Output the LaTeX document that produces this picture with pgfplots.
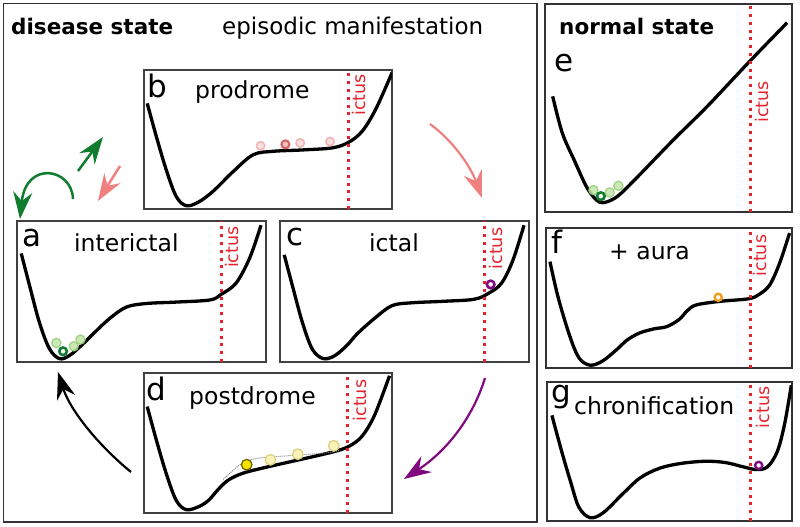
\documentclass[border=0pt]{standalone}
\usepackage{fontspec}
\setmainfont{DejaVu Sans}
\usepackage{pgfplots}
\pgfplotsset{compat=1.18}
\usetikzlibrary{arrows.meta}
\definecolor{ictusred}{RGB}{230,35,45}
\definecolor{dgreen}{RGB}{15,125,45}
\definecolor{lgreen}{RGB}{150,205,120}
\definecolor{lgreenfill}{RGB}{195,228,170}
\definecolor{pinkarrow}{RGB}{240,128,128}
\definecolor{pinkball}{RGB}{238,170,170}
\definecolor{pinkdark}{RGB}{215,95,95}
\definecolor{purp}{RGB}{128,10,128}
\definecolor{orng}{RGB}{240,160,30}
\definecolor{yel}{RGB}{245,228,0}
\definecolor{yelborder}{RGB}{110,100,0}
\definecolor{paley}{RGB}{250,242,185}
\definecolor{paleyb}{RGB}{222,210,130}
\pgfplotsset{
  panel/.style={scale only axis, anchor=north west, xmin=0, xmax=1, ymin=0, ymax=1,
    xtick=\empty, ytick=\empty, axis line style={draw=black!75, line width=1.1pt}},
  rpanel/.style={panel, axis line style={draw=black!80, line width=1.5pt}},
  curve/.style={black, line width=3.3pt, smooth, tension=0.55, no marks},
  ictus/.style={color=ictusred, line width=3pt, dash pattern=on 3pt off 4.8pt, no marks},
}
\tikzset{
  ictuslabel/.style={rotate=90, anchor=east, text=ictusred, font=\fontsize{17.5pt}{20pt}\selectfont, inner sep=1pt},
  title/.style={anchor=base west, font=\fontsize{23pt}{26pt}\selectfont, inner sep=0pt},
  ptitle/.style={anchor=base west, font=\fontsize{23.5pt}{26pt}\selectfont, inner sep=0pt},
  letter/.style={anchor=base west, font=\fontsize{31pt}{34pt}\selectfont, inner sep=0pt},
  btitle/.style={anchor=base west, font=\bfseries\fontsize{21.5pt}{24pt}\selectfont, inner sep=0pt},
  arr/.style={-{Stealth[length=27pt, width=19pt, inset=9pt]}},
}
\begin{document}
\begin{tikzpicture}
\path (0pt,0pt) rectangle (800pt,-527pt);
% ---------- panel a
\begin{axis}[panel, at={(17pt,-221pt)}, width=249pt, height=141pt]
\addplot[curve] coordinates {(0.017,0.77) (0.05,0.545) (0.09,0.28) (0.13,0.095) (0.17,0.024) (0.21,0.045) (0.26,0.12) (0.306,0.2) (0.373,0.31) (0.44,0.39) (0.52,0.415) (0.64,0.425) (0.775,0.44) (0.82,0.48) (0.88,0.56) (0.935,0.74) (0.98,0.97)};
\addplot[ictus] coordinates {(0.82,0) (0.82,1)};
\node[ictuslabel] at (axis cs:0.862,0.97) {ictus};
\addplot[only marks, mark=*, mark size=4.6pt, mark options={draw=lgreen, fill=lgreenfill, line width=1.3pt, opacity=0.85}] coordinates {(0.158,0.135) (0.228,0.111) (0.255,0.159)};
\addplot[only marks, mark=*, mark size=3.8pt, mark options={draw=dgreen, fill=white, line width=2.6pt}] coordinates {(0.185,0.076)};
\end{axis}
% ---------- panel b
\begin{axis}[panel, at={(144pt,-70pt)}, width=248pt, height=139pt]
\addplot[curve] coordinates {(0.013,0.76) (0.05,0.52) (0.09,0.28) (0.13,0.09) (0.17,0.024) (0.22,0.05) (0.28,0.13) (0.36,0.27) (0.44,0.39) (0.52,0.415) (0.64,0.425) (0.76,0.44) (0.825,0.48) (0.88,0.56) (0.935,0.72) (1.0,0.98)};
\addplot[ictus] coordinates {(0.825,0) (0.825,1)};
\node[ictuslabel] at (axis cs:0.865,0.98) {ictus};
\addplot[only marks, mark=*, mark size=4.2pt, mark options={draw=pinkball, fill=pinkball!45!white, line width=1.5pt, opacity=0.85}] coordinates {(0.47,0.455) (0.63,0.475) (0.75,0.485)};
\addplot[only marks, mark=*, mark size=4pt, mark options={draw=pinkdark, fill=pinkdark!40!white, line width=2pt}] coordinates {(0.57,0.465)};
\end{axis}
% ---------- panel c
\begin{axis}[panel, at={(280pt,-221pt)}, width=249pt, height=141pt]
\addplot[curve] coordinates {(0.017,0.76) (0.05,0.54) (0.09,0.28) (0.13,0.09) (0.174,0.024) (0.22,0.045) (0.27,0.12) (0.31,0.2) (0.38,0.31) (0.45,0.40) (0.53,0.42) (0.65,0.43) (0.78,0.445) (0.84,0.49) (0.89,0.56) (0.935,0.72) (0.98,0.97)};
\addplot[ictus] coordinates {(0.82,0) (0.82,1)};
\node[ictuslabel] at (axis cs:0.866,0.96) {ictus};
\addplot[only marks, mark=*, mark size=3.8pt, mark options={draw=purp, fill=white, line width=2.6pt}] coordinates {(0.846,0.55)};
\end{axis}
% ---------- panel d
\begin{axis}[panel, at={(144pt,-373pt)}, width=248pt, height=140pt]
\addplot[curve] coordinates {(0.013,0.76) (0.05,0.52) (0.09,0.28) (0.13,0.09) (0.17,0.024) (0.22,0.045) (0.26,0.09) (0.30,0.17) (0.34,0.235) (0.40,0.285) (0.50,0.33) (0.60,0.37) (0.70,0.41) (0.78,0.445) (0.83,0.48) (0.88,0.55) (0.93,0.70) (0.99,0.98)};
\addplot[gray, line width=1pt, densely dotted, smooth, no marks] coordinates {(0.32,0.24) (0.387,0.345) (0.455,0.39) (0.59,0.41) (0.74,0.43) (0.79,0.45)};
\addplot[ictus] coordinates {(0.82,0) (0.82,1)};
\node[ictuslabel] at (axis cs:0.872,0.96) {ictus};
\addplot[only marks, mark=*, mark size=5.3pt, mark options={draw=paleyb, fill=paley, line width=1.3pt}] coordinates {(0.51,0.38) (0.62,0.42) (0.765,0.48)};
\addplot[only marks, mark=*, mark size=5.3pt, mark options={draw=yelborder, fill=yel, line width=1.3pt}] coordinates {(0.414,0.345)};
\end{axis}
% ---------- panel e
\begin{axis}[rpanel, at={(545pt,-4pt)}, width=247pt, height=208pt]
\addplot[curve] coordinates {(0.031,0.556) (0.07,0.38) (0.118,0.25) (0.172,0.113) (0.22,0.048) (0.266,0.056) (0.307,0.089) (0.388,0.185) (0.52,0.347) (0.657,0.508) (0.83,0.726) (0.98,0.91)};
\addplot[ictus] coordinates {(0.83,0) (0.83,1)};
\node[ictuslabel, anchor=center] at (axis cs:0.88,0.53) {ictus};
\addplot[only marks, mark=*, mark size=4.6pt, mark options={draw=lgreen, fill=lgreenfill, line width=1.3pt, opacity=0.85}] coordinates {(0.196,0.105) (0.262,0.094) (0.297,0.126)};
\addplot[only marks, mark=*, mark size=3.8pt, mark options={draw=dgreen, fill=white, line width=2.6pt}] coordinates {(0.226,0.076)};
\end{axis}
% ---------- panel f
\begin{axis}[rpanel, at={(546pt,-228pt)}, width=246pt, height=140pt]
\addplot[curve] coordinates {(0.016,0.76) (0.05,0.50) (0.097,0.226) (0.135,0.07) (0.18,0.02) (0.23,0.05) (0.287,0.131) (0.33,0.2) (0.38,0.25) (0.44,0.28) (0.49,0.295) (0.54,0.345) (0.575,0.41) (0.61,0.45) (0.706,0.476) (0.825,0.495) (0.87,0.53) (0.91,0.595) (0.95,0.75) (0.99,0.964)};
\addplot[ictus] coordinates {(0.83,0) (0.83,1)};
\node[ictuslabel] at (axis cs:0.868,0.96) {ictus};
\addplot[only marks, mark=*, mark size=3.6pt, mark options={draw=orng, fill=white, line width=2.4pt}] coordinates {(0.70,0.505)};
\end{axis}
% ---------- panel g
\begin{axis}[rpanel, at={(547pt,-382pt)}, width=245pt, height=139pt]
\addplot[curve] coordinates {(0.02,0.76) (0.06,0.50) (0.095,0.29) (0.13,0.10) (0.176,0.024) (0.23,0.06) (0.31,0.197) (0.38,0.31) (0.46,0.38) (0.55,0.415) (0.65,0.43) (0.73,0.42) (0.80,0.39) (0.855,0.37) (0.90,0.39) (0.94,0.50) (0.97,0.70) (0.997,0.976)};
\addplot[ictus] coordinates {(0.83,0) (0.83,1)};
\node[ictuslabel] at (axis cs:0.882,0.976) {ictus};
\addplot[only marks, mark=*, mark size=3.6pt, mark options={draw=purp, fill=white, line width=2.4pt}] coordinates {(0.864,0.40)};
\end{axis}
% ---------- overlay: boxes, titles, arrows
\begin{axis}[at={(0pt,0pt)}, anchor=north west, width=800pt, height=527pt, scale only axis,
  xmin=0, xmax=800, ymin=0, ymax=527, y dir=reverse, hide axis, clip=false]
\draw[black!80, line width=1.5pt] (axis cs:3.5,3.5) rectangle (axis cs:537,522);
\node[btitle] at (axis cs:11,34) {disease state};
\node[title] at (axis cs:222,34) {episodic manifestation};
\node[btitle] at (axis cs:559,34) {normal state};
\node[letter] at (axis cs:554,71) {e};
\node[letter] at (axis cs:147,97) {b};
\node[ptitle] at (axis cs:195,98) {prodrome};
\node[letter] at (axis cs:22,246) {a};
\node[ptitle] at (axis cs:74,251) {interictal};
\node[letter] at (axis cs:286,245) {c};
\node[ptitle] at (axis cs:369,251) {ictal};
\node[letter] at (axis cs:146,400) {d};
\node[ptitle] at (axis cs:189,404) {postdrome};
\node[letter] at (axis cs:551,253) {f};
\node[ptitle] at (axis cs:609,259) {+ aura};
\node[letter] at (axis cs:551,402) {g};
\node[ptitle] at (axis cs:574,414) {chronification};
% arrows
\draw[dgreen, line width=2.5pt, arr] (axis cs:73,199) .. controls (axis cs:72,168) and (axis cs:26,160) .. (axis cs:20,219);
\draw[dgreen, line width=2.5pt, arr] (axis cs:78,171) -- (axis cs:103,137);
\draw[pinkarrow, line width=2.5pt, arr] (axis cs:120,166) -- (axis cs:98,201);
\draw[pinkarrow, line width=2.2pt, arr] (axis cs:430,124) .. controls (axis cs:452,140) and (axis cs:470,165) .. (axis cs:482,198);
\draw[purp, line width=2.2pt, arr] (axis cs:485,378) .. controls (axis cs:472,420) and (axis cs:445,452) .. (axis cs:404,479);
\draw[black, line width=2.2pt, arr] (axis cs:131,472) .. controls (axis cs:98,445) and (axis cs:70,410) .. (axis cs:58,372);
\end{axis}
\end{tikzpicture}
\end{document}
